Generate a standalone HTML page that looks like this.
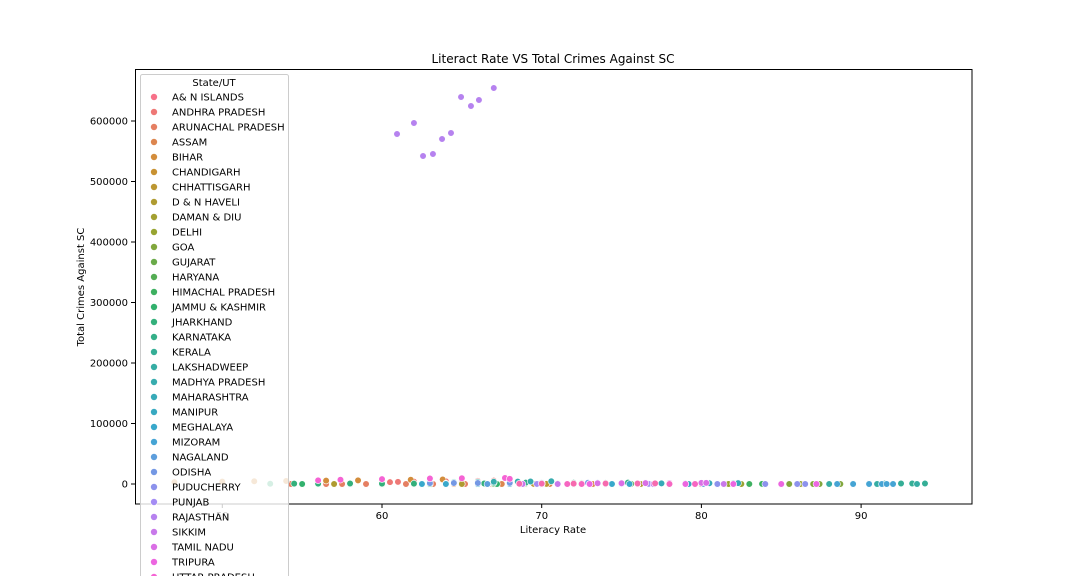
<!DOCTYPE html>
<html><head><meta charset="utf-8"><style>
html,body{margin:0;padding:0;background:#fff;overflow:hidden;width:1080px;height:576px;}
svg{display:block;font-family:"DejaVu Sans","Liberation Sans",sans-serif;}
</style></head><body>
<svg id="chart" width="1080" height="576">
<text x="553" y="63" font-size="12" text-anchor="middle">Literact Rate VS Total Crimes Against SC</text>
<g id="marks"></g>
<rect x="135.5" y="69.5" width="836.5" height="434.5" fill="none" stroke="#000" stroke-width="1"/>
<g id="axes"></g>
<text x="553" y="533" font-size="10" text-anchor="middle">Literacy Rate</text>
<text x="84" y="287" font-size="10" text-anchor="middle" transform="rotate(-90 84 287)">Total Crimes Against SC</text>
<g id="legend"></g>
</svg>
<script>
const states=["A& N ISLANDS","ANDHRA PRADESH","ARUNACHAL PRADESH","ASSAM","BIHAR","CHANDIGARH","CHHATTISGARH","D & N HAVELI","DAMAN & DIU","DELHI","GOA","GUJARAT","HARYANA","HIMACHAL PRADESH","JAMMU & KASHMIR","JHARKHAND","KARNATAKA","KERALA","LAKSHADWEEP","MADHYA PRADESH","MAHARASHTRA","MANIPUR","MEGHALAYA","MIZORAM","NAGALAND","ODISHA","PUDUCHERRY","PUNJAB","RAJASTHAN","SIKKIM","TAMIL NADU","TRIPURA","UTTAR PRADESH","UTTARAKHAND","WEST BENGAL"];
const literacy=[
[81,82,83,84,85,86,86.3],
[60.5,61,62,63,64,65,66,67],
[54.3,55,56.5,57.5,59,61.5,62.5,63.2,65.2,66.9],
[63,64.5,66,67.5,69,70.5,72,73.2],
[47,50,52,54,56.5,58.5,60,61.8,63.8],
[81,82,83,84,85,86],
[64,65,66.5,68,69.5,70.3,71],
[57,60,62,65,67,69,70,76.2],
[78,80,82,85,86,87.1],
[81.7,82.5,83,84,85,86,86.2],
[82,84,85.5,86,87,87.4,88.7],
[69,70,71,72.5,74,75,78],
[67,68,70,72,74,75.6,76],
[76,77,79,81,82,83,83.8],
[55,56,58,60,63,66,67.2,68.7],
[53,54.5,56,58,60,62,64,66.4],
[66,67,69,70,72,74,75.4],
[89.5,90.5,91.5,92.5,93.2,94],
[86.5,88,89.5,91,92,93.5],
[63,64.5,66,67,68.5,69.3,70.6],
[76,77.5,79,80.5,82,82.3],
[70,72,74,76,78,79.2],
[62.5,64,66,68,70,74.4,75.5],
[88.5,89.5,90.5,91.3,91.6,92],
[66.6,70,74,77,79.6,80.1],
[63,64.5,66,68,70,72.9,73.5],
[81,82,84,85,86,86.5],
[69.7,71,73,75,76,76.7],
[60.94,62.0,62.57,63.19,63.76,64.32,64.95,65.57,66.07,67.0],
[68.8,71,74,77,79,81.4],
[73.5,75,76.5,78,80,80.3],
[73,76,79,82,85,87.2],
[56,57.4,60,63,65,67.7,68],
[71.6,72.5,74,76,78,79.6],
[68.6,70,72,74,76,77.1]];
const crimes=[
[0,0,0,0,0,0,0],
[3000,3500,4000,4200,4500,5000,5200,5500],
[0,5,0,10,0,5,0,0,5,0],
[5,10,5,10,5,10,5,10],
[3000,4000,4500,5000,5500,6000,6500,7000,7500],
[0,0,0,0,0,0],
[200,250,300,250,300,200,250],
[0,0,0,0,0,0,0,0],
[0,0,0,0,0,0],
[50,60,70,80,60,50,70],
[0,0,0,0,0,0,0],
[1000,1100,1200,1300,1100,1000,1200],
[300,400,500,600,400,300,500],
[100,120,130,110,100,90,120],
[0,0,0,0,0,0,0,0],
[500,600,700,800,600,700,800,900],
[1800,2000,2200,2400,2100,1900,2300],
[700,800,900,850,800,750],
[0,0,0,0,0,0],
[3000,3200,3500,3800,4000,4200,4500],
[1000,1100,1200,1300,1400,1500],
[0,0,0,0,0,0],
[0,0,0,0,0,0,0],
[0,0,0,0,0,0],
[0,0,0,0,0,0],
[1500,1600,1700,1800,1900,2000,2100],
[0,0,0,0,0,0],
[100,150,200,150,100,120],
[578500,596700,542100,545400,570200,580200,639700,624800,634700,654500],
[0,0,0,0,0,0],
[1200,1300,1500,1600,1800,1900],
[20,30,40,20,30,40],
[6000,7000,8000,9000,9500,10000,8500],
[50,60,70,80,60,70],
[500,600,700,800,900,1000]];
const xTicks=[50,60,70,80,90];
const yTicks=[0,100000,200000,300000,400000,500000,600000];
const NS="http://www.w3.org/2000/svg";
function sx(v){return 382+(v-60)*15.97;}
function sy(v){return 484-v*0.000605;}
const anchors=[[247,113,137],[206,144,50],[151,164,49],[50,177,102],[54,173,164],[57,167,208],[164,140,244],[245,97,221],[247,113,137]];
function color(i){
  const f=i/36*8, k=Math.floor(f), t=f-k, a=anchors[k], b=anchors[k+1];
  return `rgb(${a.map((v,n)=>Math.round(v+(b[n]-v)*t)).join(',')})`;
}
function mk(t,a,p){const e=document.createElementNS(NS,t);for(const k in a)e.setAttribute(k,a[k]);p.appendChild(e);return e;}
const marks=document.getElementById('marks');
states.forEach((s,i)=>{
  literacy[i].forEach((lv,j)=>{
    const c=mk('circle',{cx:sx(lv),cy:sy(crimes[i][j]),r:3.3,fill:color(i),stroke:'#fff','stroke-width':0.6},marks);
    
    
  });
});
const axes=document.getElementById('axes');
xTicks.forEach(t=>{
  const x=sx(t);
  const l=mk('line',{x1:x,x2:x,y1:504,y2:508,stroke:'#000'},axes);
  
  
  const tx=mk('text',{x:x,y:519,'font-size':10,'text-anchor':'middle'},axes);
  tx.textContent=t;
  
  
});
yTicks.forEach(t=>{
  const y=sy(t);
  const l=mk('line',{x1:131,x2:135,y1:y,y2:y,stroke:'#000'},axes);
  
  
  const tx=mk('text',{x:128,y:y+3.5,'font-size':10,'text-anchor':'end'},axes);
  tx.textContent=t;
  
  
});
const lg=document.getElementById('legend');
const box=mk('rect',{x:140.5,y:74.5,width:148,height:510,rx:2,fill:'rgba(255,255,255,0.8)',stroke:'#ccc'},lg);


const tt=mk('text',{x:214,y:86,'font-size':10,'text-anchor':'middle'},lg);
tt.textContent='State/UT';


states.forEach((s,i)=>{
  const y=97+i*15;
  if(y>590) return;
  const g=mk('g',{},lg);
  
  
  mk('circle',{cx:154,cy:y,r:3.5,fill:color(i),stroke:'#fff','stroke-width':0.6},g);
  const t=mk('text',{x:172,y:y+3.5,'font-size':10},g);
  t.textContent=s;
});
</script>
</body></html>
